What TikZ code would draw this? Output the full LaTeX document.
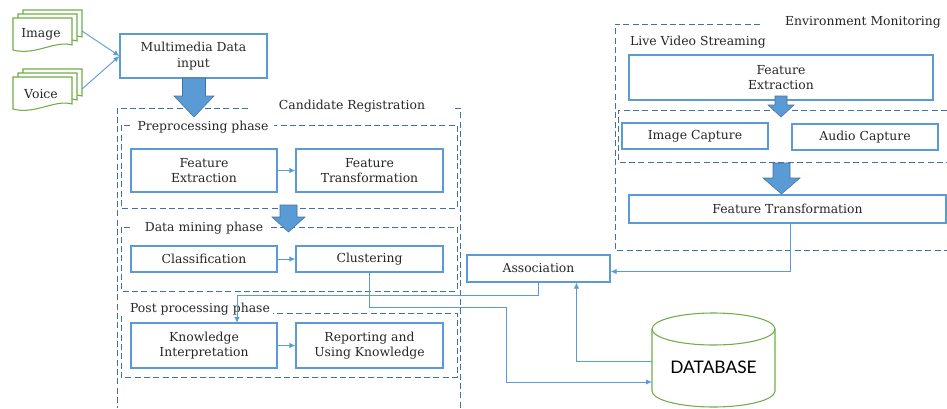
\documentclass[tikz,border=0pt]{standalone}
\usepackage{fontspec}
\setmainfont{DejaVu Serif}
\newfontfamily\dbfont{Lato}
\usetikzlibrary{calc,arrows.meta}
\definecolor{boxblue}{HTML}{5B9BD5}
\definecolor{dashblue}{HTML}{41719C}
\definecolor{docgreen}{HTML}{70AD47}
\definecolor{txt}{HTML}{262626}
\newcommand\stackdoc[2]{%
  \foreach \d in {2,1,0}{%
    \path[doc] ({#1+5*\d},{#2-4*\d}) -- ({#1+59+5*\d},{#2-4*\d}) -- ({#1+59+5*\d},{#2+27-4*\d})
      .. controls ({#1+42+5*\d},{#2+22-4*\d}) and ({#1+22+5*\d},{#2+38-4*\d}) .. ({#1+5*\d},{#2+32-4*\d}) -- cycle;}}
\newcommand\blockarr[6]{% cx, top, shaft half, head half, head start, tip
  \path[blk] ({#1-#3},#2) -- ({#1+#3},#2) -- ({#1+#3},#5) -- ({#1+#4},#5) -- (#1,#6) -- ({#1-#4},#5) -- ({#1-#3},#5) -- cycle;}
\newcommand\boxat[6]{% name, x1, y1, x2, y2, text
  \node[box, minimum width={(#4-#2)*0.75pt}, minimum height={(#5-#3)*0.75pt}] (#1) at ({(#2+#4)/2},{(#3+#5)/2}) {#6};}
\begin{document}
\begin{tikzpicture}[x=0.75pt,y=-0.75pt, font=\fontsize{9.3}{11.5}\selectfont, text=txt,
  box/.style={draw=boxblue, line width=0.8pt, inner sep=0pt, align=center},
  grp/.style={draw=dashblue, line width=0.7pt, dash pattern=on 4.5pt off 2.5pt},
  conn/.style={draw=boxblue, line width=0.7pt},
  arr/.style={conn, -{Latex[length=4.5pt,width=4pt]}},
  lbl/.style={inner sep=0pt},
  doc/.style={draw=docgreen, line width=0.8pt, fill=white},
  blk/.style={fill=boxblue, draw=dashblue, line width=0.4pt}]
\useasboundingbox (0,0) rectangle (947,408);

% documents
\stackdoc{13}{18}
\node[lbl] (img) at (41,34) {Image};
\stackdoc{13}{77}
\node[lbl] (voi) at (41,94) {Voice};
\coordinate (imgR) at (82,31);
\coordinate (voiR) at (82,89);

% multimedia input
\boxat{mm}{120}{34}{267}{78}{Multimedia Data\\input}
\draw[arr] (imgR) -- (mm.west);
\draw[arr] (voiR) -- (mm.west);

% Candidate registration outer group
\draw[grp] (248,108) -- (117,108) -- (117,408);
\draw[grp] (455,108) -- (460,108) -- (460,408);
\node[lbl] (candlbl) at (352,106) {Candidate Registration};

% Preprocessing
\draw[grp] (130,125) -- (121,125) -- (121,208) -- (457,208) -- (457,125) -- (274,125);
\node[lbl] (prelbl) at (203,127) {Preprocessing phase};
\boxat{fe}{131}{149}{277}{192}{Feature\\Extraction}
\boxat{ft}{296}{149}{443}{192}{Feature\\Transformation}
\draw[arr] (fe.east) -- (ft.west);

% Data mining
\draw[grp] (130,227) -- (121,227) -- (121,291) -- (457,291) -- (457,227) -- (268,227);
\node[lbl] (dmlbl) at (204,228) {Data mining phase};
\boxat{cls}{131}{246}{277}{272}{Classification}
\boxat{clu}{296}{246}{443}{272}{Clustering}
\draw[arr] (cls.east) -- (clu.west);

% Post processing
\draw[grp] (121,316) -- (121,377) -- (457,377) -- (457,313) -- (273,313);
\node[lbl] (pplbl) at (200,309) {Post processing phase};
\boxat{ki}{131}{323}{277}{368}{Knowledge\\Interpretation}
\boxat{rep}{296}{323}{443}{368}{Reporting and\\Using Knowledge}
\draw[arr] (ki.east) -- (rep.west);

% block arrows left
\blockarr{194}{78}{11.5}{20}{96}{117}
\blockarr{288.5}{205}{8.5}{16.5}{217}{232}

% Environment monitoring
\draw[grp] (760,24) -- (615,24) -- (615,250) -- (947,250);
\node[lbl] (envlbl) at (863,22) {Environment Monitoring};
\node[lbl] (livelbl) at (698,42) {Live Video Streaming};
\boxat{fer}{629}{55}{933}{100}{Feature\\Extraction}
\draw[grp] (947,110) -- (618,110) -- (618,162) -- (947,162);
\boxat{ic}{622}{123}{768}{149}{Image Capture}
\boxat{ac}{792}{124}{938}{150}{Audio Capture}
\boxat{ftr}{629}{195}{946}{223}{Feature Transformation}
\blockarr{781}{96}{6}{13}{105}{117}
\blockarr{781.5}{163}{8.5}{18.5}{178}{194}

% Association
\boxat{assoc}{467}{255}{610}{282}{Association}

% Database
\path[draw=docgreen, line width=0.8pt, fill=white] (652,329) -- (652,391) arc[start angle=180, end angle=360, x radius=61.5, y radius=-16] -- (775,329);
\draw[docgreen, line width=0.8pt] (713.5,329) ellipse[x radius=61.5, y radius=16];
\node[lbl, font=\dbfont\fontsize{13}{15}\selectfont, text=black] (db) at (713.5,367) {DATABASE};
\coordinate (dbin) at (652,382);
\coordinate (dbout) at (652,361);
\coordinate (kin) at (237,323);

% connectors
\draw[arr] ($(ftr.south west)+(162,0)$) |- ($(assoc.east)+(0,3)$);
\draw[arr] (assoc.south) -- ++(0,13) -| (kin);
\draw[arr] (clu.south) -- ++(0,35) -| (506,382) -- (dbin);
\draw[arr] (dbout) -| ($(assoc.south west)+(110,0)$);
\end{tikzpicture}
\end{document}
